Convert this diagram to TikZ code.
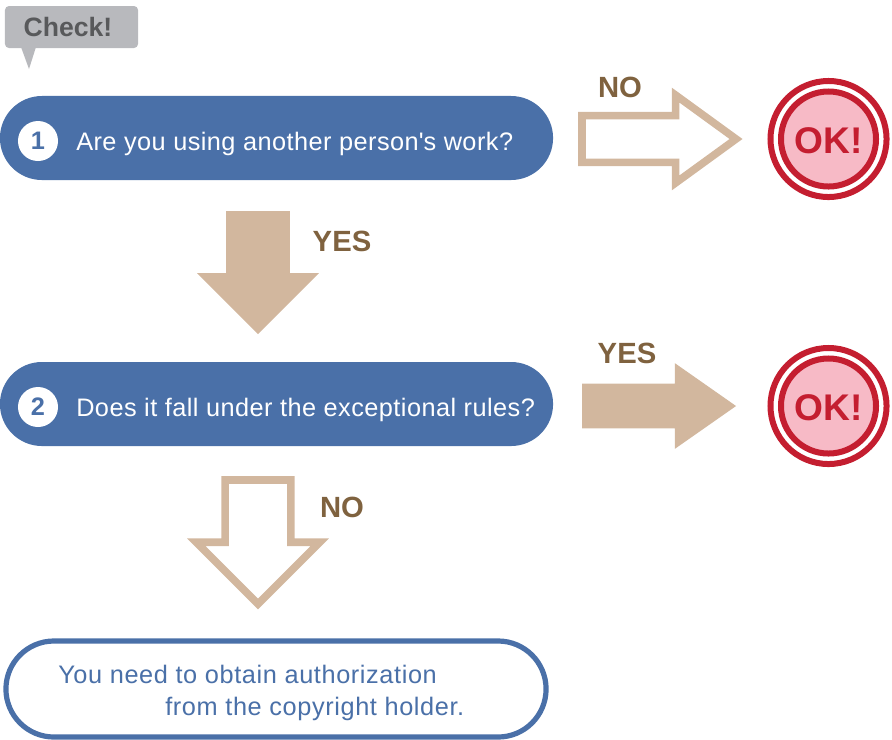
\documentclass[tikz,border=0pt]{standalone}
\usepackage{fontspec}
\setmainfont{Liberation Sans}
\newfontfamily\flowfont[LetterSpace=1.8]{Liberation Sans}
\newfontfamily\endfont[LetterSpace=2.4]{Liberation Sans}
\usetikzlibrary{shapes.arrows,positioning}
\definecolor{flowBlue}{RGB}{74, 112, 168}
\definecolor{flowTan}{RGB}{210, 183, 158}
\definecolor{flowBrown}{RGB}{127, 98, 63}
\definecolor{flowRed}{RGB}{196, 30, 48}
\definecolor{flowPink}{RGB}{247, 186, 198}
\definecolor{flowGray}{RGB}{184, 185, 189}
\definecolor{flowDark}{RGB}{88, 89, 91}

\begin{document}
\begin{tikzpicture}[x=0.025cm, y=-0.025cm]
    \tikzstyle{qbox} = [rectangle, fill=flowBlue, minimum width=13.825cm, minimum height=2.1cm, rounded corners=1.05cm]
    \tikzstyle{qtext} = [anchor=base west, inner sep=0pt, text=white, font=\flowfont\fontsize{18}{20}\selectfont]
    \tikzstyle{numdot} = [circle, fill=white, minimum size=1cm, inner sep=0pt, text=flowBlue, font=\fontsize{18}{20}\selectfont\bfseries]
    \tikzstyle{endbox} = [rectangle, draw=flowBlue, fill=white, line width=0.13cm, minimum width=13.5cm, minimum height=2.4cm, rounded corners=1.2cm]
    \tikzstyle{answer} = [inner sep=0pt, text=flowBrown, font=\fontsize{20.8}{24}\selectfont\bfseries]
    \tikzstyle{okdisc} = [circle, draw=flowRed, fill=flowPink, line width=0.15cm, minimum size=2.375cm, inner sep=0pt]
    \tikzstyle{oktext} = [inner sep=0pt, text=flowRed, font=\fontsize{26.4}{28}\selectfont\bfseries]
    \tikzstyle{okring} = [circle, draw=flowRed, line width=0.15cm, minimum size=2.9cm, inner sep=0pt]
    \tikzstyle{downarrow} = [single arrow, anchor=tail, shape border rotate=270, outer sep=0pt, text height=0pt, text depth=0pt, text width=0pt, inner xsep=0.7875cm, inner ysep=0pt, single arrow head extend=0.725cm, minimum height=3.075cm]
    \tikzstyle{rightarrow} = [single arrow, anchor=tail, outer sep=0pt, text height=0pt, text depth=0pt, text width=0pt, inner xsep=0pt, inner ysep=0.55cm, single arrow head extend=0.5125cm, single arrow tip angle=70, minimum height=3.85cm]
    \tikzstyle{solid tan} = [fill=flowTan]
    \tikzstyle{hollow tan} = [draw=flowTan, fill=white, line width=0.19cm]

    \useasboundingbox (0, 0) rectangle (892, 739);

    \node[rectangle, fill=flowGray, minimum width=3.325cm, minimum height=1.05cm, rounded corners=0.1cm, inner sep=0pt] (check) at (71.5, 27) {};
    \fill[flowGray] (21, 47) -- (36, 47) -- (29, 69) -- cycle;
    \node[inner sep=0pt, text=flowDark, font=\fontsize{18.9}{22}\selectfont\bfseries] (checktext) at (68, 27) {Check!};

    \node[qbox] (q1) at (276.5, 138) {};
    \node[numdot] (n1) at (38, 141) {1};
    \node[qtext] (t1) at (76, 150) {Are you using another person\textquotesingle s work?};

    \node[answer] (no1) at (620, 87) {NO};
    \node[rightarrow, hollow tan, inner ysep=0.49cm, single arrow tip angle=72] (a1) at (582, 139) {};
    \node[okring] (r1) at (828.5, 139) {};
    \node[okdisc] (ok1) at (828.5, 139) {};
    \node[oktext] (l1) at (828.5, 141) {OK!};

    \node[downarrow, solid tan] (a2) at (258, 211) {};
    \node[answer] (yes1) at (342, 241) {YES};

    \node[qbox] (q2) at (276.5, 404) {};
    \node[numdot] (n2) at (38, 407) {2};
    \node[qtext] (t2) at (76, 416) {Does it fall under the exceptional rules?};

    \node[answer] (yes2) at (627, 353) {YES};
    \node[rightarrow, solid tan] (a3) at (582, 406) {};
    \node[okring] (r2) at (828.5, 406) {};
    \node[okdisc] (ok2) at (828.5, 406) {};
    \node[oktext] (l2) at (828.5, 408) {OK!};

    \node[downarrow, hollow tan, inner xsep=0.725cm, minimum height=3.1cm] (a4) at (258, 480) {};
    \node[answer] (no2) at (342, 507) {NO};

    \node[endbox] (end) at (276, 689) {};
    \node[anchor=north west, inner sep=0pt, align=left, text=flowBlue, font=\endfont\fontsize{18}{22.7}\selectfont] (endtext) at (58, 664.5) {You need to obtain authorization\\\hspace*{2.675cm}from the copyright holder.};
\end{tikzpicture}
\end{document}
